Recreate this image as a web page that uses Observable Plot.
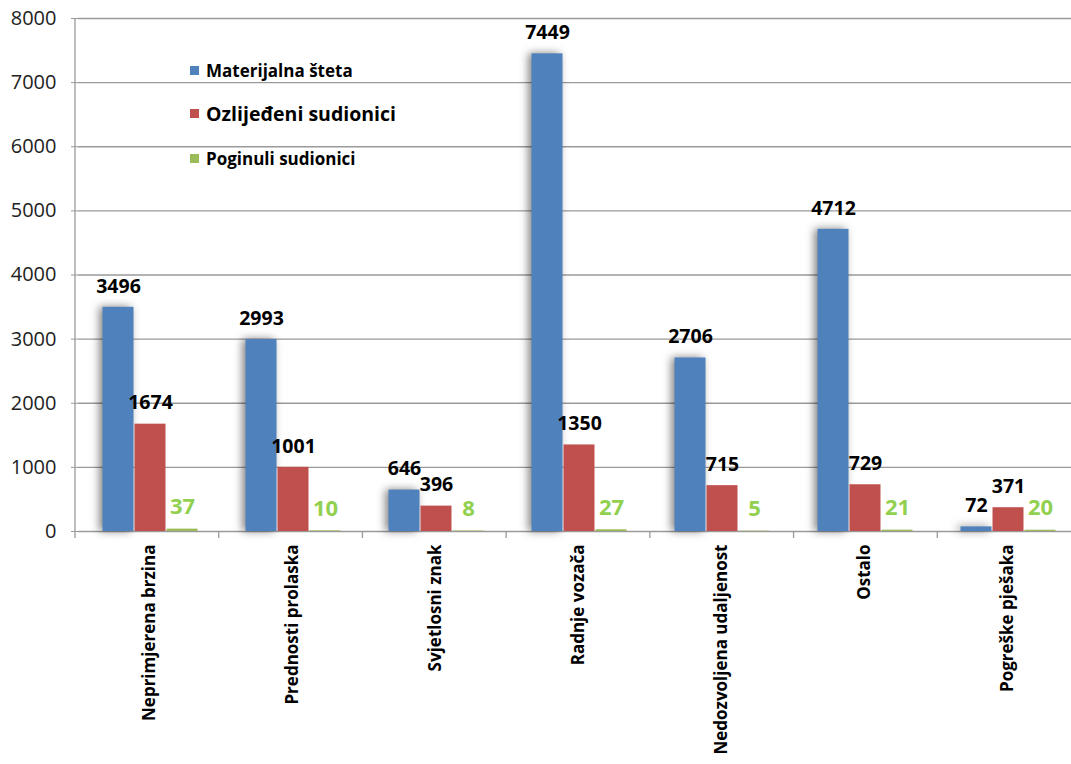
<!DOCTYPE html>
<html>
<head>
<meta charset="utf-8">
<script src="https://cdn.jsdelivr.net/npm/d3@7"></script>
<script src="https://cdn.jsdelivr.net/npm/@observablehq/plot@0.6"></script>
<style>
  html, body { margin: 0; padding: 0; background: #fff; overflow: hidden; }
  #wrap { position: relative; width: 1071px; height: 764px; overflow: hidden; font-family: "Open Sans", sans-serif; }
  #wrap svg { max-width: none !important; height: 764px !important; }
  #legend { position: absolute; left: 190px; top: 0; font-weight: bold; color: #000; }
  .lg { position: absolute; white-space: nowrap; display: flex; align-items: center; }
  .sw { width: 9px; height: 9px; margin-right: 7px; display: inline-block; }
</style>
</head>
<body>
<div id="wrap"><div id="legend"></div></div>
<script>
const categories = ["Neprimjerena brzina", "Prednosti prolaska", "Svjetlosni znak", "Radnje vozača", "Nedozvoljena udaljenost", "Ostalo", "Pogreške pješaka"];
const series = ["Materijalna šteta", "Ozlijeđeni sudionici", "Poginuli sudionici"];
const materijalna = [3496, 2993, 646, 7449, 2706, 4712, 72];
const ozlijedeni = [1674, 1001, 396, 1350, 715, 729, 371];
const poginuli = [37, 10, 8, 27, 5, 21, 20];
const colors = ["#4f81bd", "#c0504d", "#9bbb59"];
const yTicks = [0, 1000, 2000, 3000, 4000, 5000, 6000, 7000, 8000];

const values = [materijalna, ozlijedeni, poginuli];
const rows = categories.flatMap((c, i) => series.map((s, j) => ({category: c, series: s, value: values[j][i]})));
const blackRows = rows.filter(d => d.series !== series[2]);
const greenRows = rows.filter(d => d.series === series[2]);

const plot = Plot.plot({
  width: 1081,
  height: 764,
  marginLeft: 75,
  marginRight: 0,
  marginTop: 18,
  marginBottom: 233,
  style: {fontFamily: "'Open Sans', sans-serif", background: "transparent", overflow: "visible"},
  fx: {domain: categories, padding: 0, axis: null},
  x: {domain: series, paddingInner: 0, paddingOuter: 0.71, axis: null},
  y: {domain: [0, 8000], axis: null},
  color: {domain: series, range: colors},
  marks: [
    Plot.gridY(yTicks, {stroke: "#9a9a9a", strokeOpacity: 1, strokeWidth: 1.3}),
    Plot.axisY({ticks: yTicks, tickSize: 7, tickPadding: 15, fontSize: 20, label: null, stroke: "#9a9a9a", fill: "#222", tickFormat: d => String(d)}),
    Plot.axisFx({anchor: "bottom", tickRotate: -90, tickSize: 0, tickPadding: 13, fontSize: 17, fontWeight: "bold", label: null, fill: "#000"}),
    Plot.barY(rows, {fx: "category", x: "series", y: "value", fill: "series", insetLeft: 0.5, insetRight: 0.5}),
    Plot.text(blackRows, {fx: "category", x: "series", y: "value", text: d => String(d.value), dy: -21, fontSize: 19.5, fontWeight: "bold", fill: "#000"}),
    Plot.text(greenRows, {fx: "category", x: "series", y: "value", text: d => String(d.value), dy: -22, fontSize: 22, fontWeight: "bold", fill: "#92d050"})
  ]
});

plot.style.maxWidth = "none";
document.getElementById("wrap").prepend(plot);

// shadow on blue bars
d3.select(plot).selectAll("rect").filter(function() {
  return (this.getAttribute("fill") || "").toLowerCase() === colors[0];
}).style("filter", "drop-shadow(-3px 0px 4px rgba(0,0,0,0.5))");

// axis line and category boundary ticks from the scales
const fxS = plot.scale("fx");
const yS = plot.scale("y");
const band = d3.scaleBand().domain(fxS.domain).range(fxS.range).paddingInner(fxS.paddingInner || 0).paddingOuter(fxS.paddingOuter || 0);
const y0 = Math.max(...yS.range), y1 = Math.min(...yS.range);
const svg = d3.select(plot);
const g = svg.append("g").attr("stroke", "#9a9a9a").attr("stroke-width", 1.3);
const x0 = band(categories[0]);
g.append("line").attr("x1", x0).attr("x2", x0).attr("y1", y1).attr("y2", y0 + 7);
categories.forEach(c => {
  const xe = band(c) + band.bandwidth();
  g.append("line").attr("x1", xe).attr("x2", xe).attr("y1", y0).attr("y2", y0 + 7);
});

// legend
const legendRows = [
  {label: series[0], color: colors[0], top: 59, size: 17},
  {label: series[1], color: colors[1], top: 100, size: 19.5},
  {label: series[2], color: colors[2], top: 147, size: 17}
];
const legend = document.getElementById("legend");
legendRows.forEach(r => {
  const div = document.createElement("div");
  div.className = "lg";
  div.style.top = r.top + "px";
  div.style.fontSize = r.size + "px";
  const sw = document.createElement("span");
  sw.className = "sw";
  sw.style.background = r.color;
  div.appendChild(sw);
  div.appendChild(document.createTextNode(r.label));
  legend.appendChild(div);
});
</script>
</body>
</html>
